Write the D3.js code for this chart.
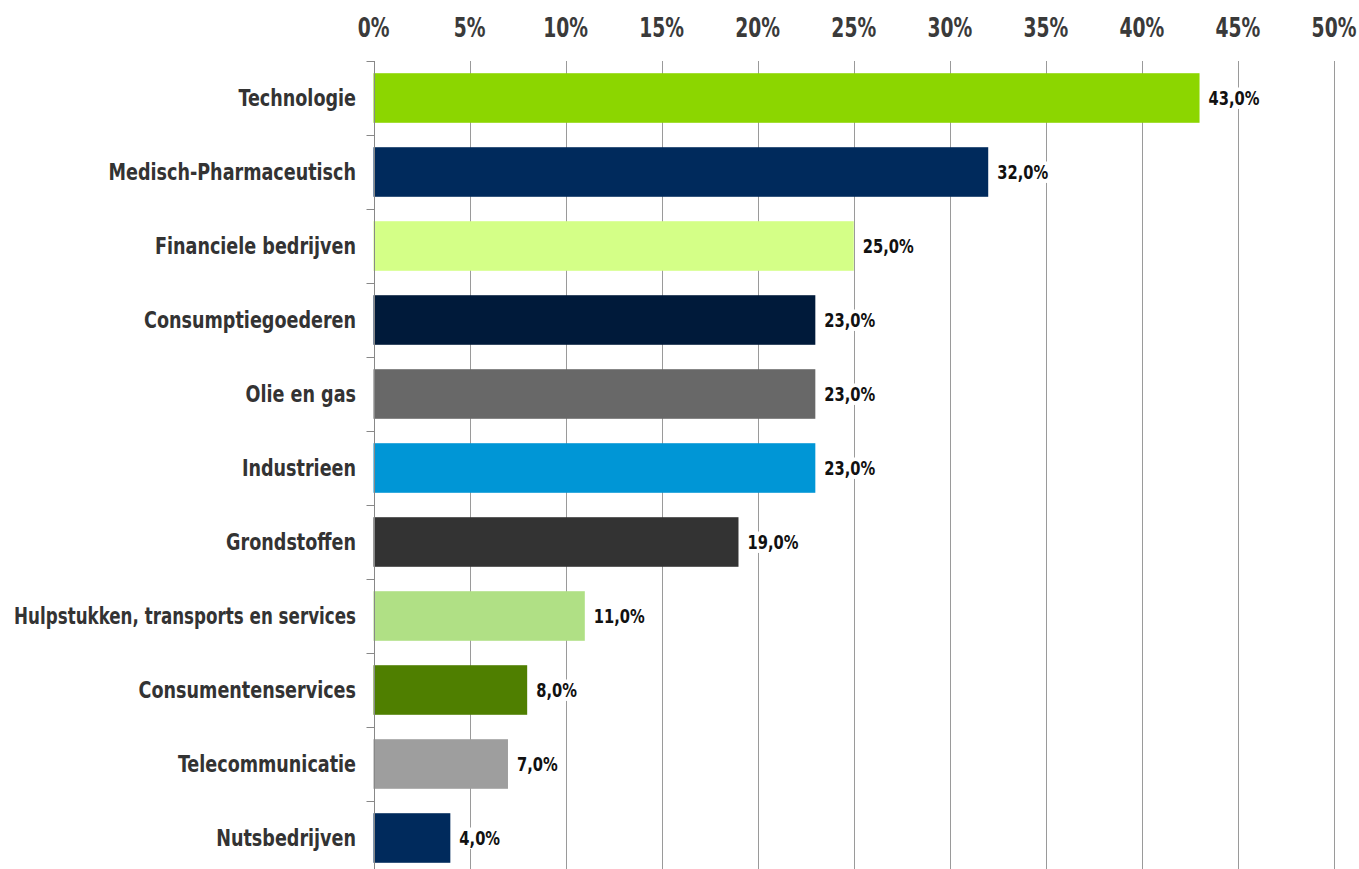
<!DOCTYPE html>
<html>
<head>
<meta charset="utf-8">
<script src="https://cdn.jsdelivr.net/npm/d3@7"></script>
<style>
  body { margin: 0; background: #fff; }
  svg text { font-family: "DejaVu Sans Condensed", "DejaVu Sans", sans-serif; font-weight: bold; }
</style>
</head>
<body>
<svg id="vis" width="1359" height="869"></svg>
<script>
const categories = [
  "Technologie", "Medisch-Pharmaceutisch", "Financiele bedrijven", "Consumptiegoederen",
  "Olie en gas", "Industrieen", "Grondstoffen", "Hulpstukken, transports en services",
  "Consumentenservices", "Telecommunicatie", "Nutsbedrijven"
];
const values = [43, 32, 25, 23, 23, 23, 19, 11, 8, 7, 4];
const colors = [
  "#8cd600", "#002a5c", "#d4ff87", "#001a3a", "#686868", "#0096d6",
  "#333333", "#b0e085", "#4f7f00", "#9e9e9e", "#002a5c"
];
const tickValues = [0, 5, 10, 15, 20, 25, 30, 35, 40, 45, 50];

const svg = d3.select("svg#vis");
const margin = { top: 61, left: 373.5 };

// x scale: 0..50 %
const x = d3.scaleLinear().domain([0, 50]).range([margin.left, 1334]);
// 11 bands of ~74px, the last one runs past the bottom edge
const y = d3.scaleBand().domain(categories)
  .range([margin.top, margin.top + 74 * categories.length])
  .paddingInner(0.33).paddingOuter(0.165);

// the original font is a condensed face, squeeze DejaVu horizontally
const squeeze = (tx, ty, s) => `translate(${tx},${ty}) scale(${s},1)`;

const g = {
  grid: svg.append("g"),
  bars: svg.append("g"),
  axis: svg.append("g"),
  labels: svg.append("g")
};

// vertical gridlines
g.grid.selectAll("line")
  .data(tickValues.filter(d => d > 0))
  .enter().append("line")
  .attr("x1", d => Math.round(x(d)) + 0.5)
  .attr("x2", d => Math.round(x(d)) + 0.5)
  .attr("y1", margin.top)
  .attr("y2", 869)
  .attr("stroke", "#9a9a9a")
  .attr("stroke-width", 1);

// top tick labels
g.axis.selectAll("text.tick")
  .data(tickValues)
  .enter().append("text")
  .attr("class", "tick")
  .attr("transform", d => squeeze(x(d), 37, 0.8))
  .attr("text-anchor", "middle")
  .attr("fill", "#3a3a3a")
  .style("font-size", "26px")
  .text(d => d + "%");

// bars
g.bars.selectAll("rect")
  .data(values)
  .enter().append("rect")
  .attr("x", x(0))
  .attr("y", (d, i) => y(categories[i]))
  .attr("width", d => x(d) - x(0))
  .attr("height", y.bandwidth())
  .attr("fill", (d, i) => colors[i]);

// category axis with outside ticks at band edges
const axisX = Math.round(x(0)) + 0.5;
g.axis.append("line")
  .attr("x1", axisX).attr("x2", axisX)
  .attr("y1", margin.top).attr("y2", 869)
  .attr("stroke", "#888").attr("stroke-width", 1);

g.axis.selectAll("line.cat")
  .data(d3.range(categories.length + 1))
  .enter().append("line")
  .attr("class", "cat")
  .attr("x1", axisX - 8).attr("x2", axisX)
  .attr("y1", d => Math.round(margin.top + 74 * d) + 0.5)
  .attr("y2", d => Math.round(margin.top + 74 * d) + 0.5)
  .attr("stroke", "#888").attr("stroke-width", 1);

const catLabels = g.axis.selectAll("text.cat")
  .data(categories)
  .enter().append("text")
  .attr("class", "cat")
  .attr("dy", "0.35em")
  .attr("text-anchor", "end")
  .attr("fill", "#333")
  .style("font-size", "23px")
  .text(d => d);

// keep the long label inside the left edge
catLabels.attr("transform", function(d) {
  const w = this.getComputedTextLength();
  const s = Math.min(0.85, 342 / w);
  return squeeze(356, y(d) + y.bandwidth() / 2, s);
});

// value labels with white background
const fmt = v => d3.format(".1f")(v).replace(".", ",") + "%";
const lab = g.labels.selectAll("g")
  .data(values)
  .enter().append("g")
  .attr("transform", (d, i) => squeeze(x(d) + 9, y(categories[i]) + y.bandwidth() / 2, 0.86));

lab.append("rect")
  .attr("class", "bg")
  .attr("fill", "#fff");

lab.append("text")
  .attr("dy", "0.35em")
  .attr("fill", "#111")
  .style("font-size", "19px")
  .text(d => fmt(d));

lab.each(function() {
  const bb = d3.select(this).select("text").node().getBBox();
  d3.select(this).select("rect")
    .attr("x", bb.x - 1).attr("y", bb.y)
    .attr("width", bb.width + 2).attr("height", bb.height);
});
</script>
</body>
</html>
